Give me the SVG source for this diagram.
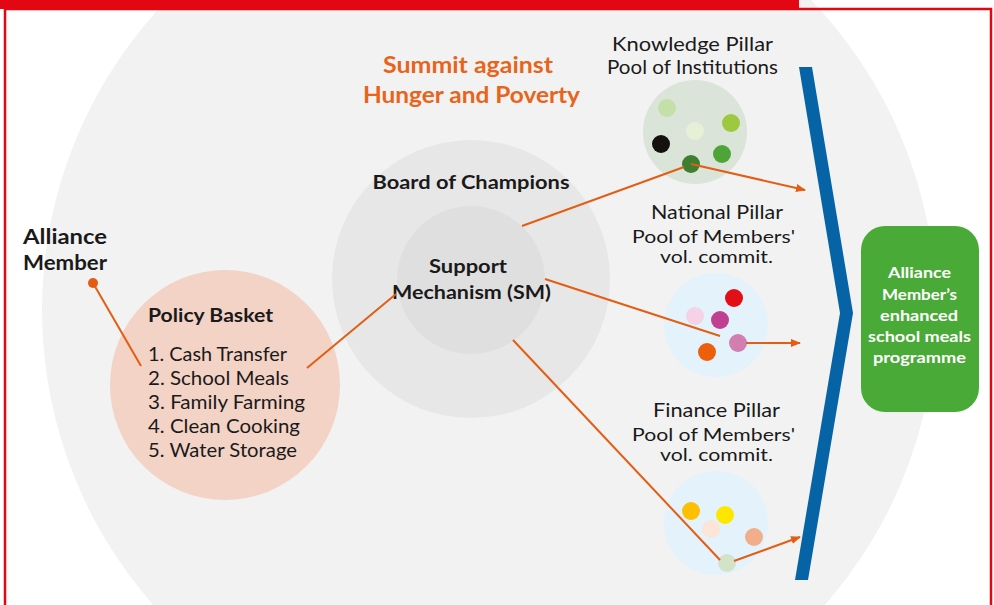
<svg xmlns="http://www.w3.org/2000/svg" width="994" height="605" viewBox="0 0 994 605">
<style>
.t{font-family:Lato,"Open Sans","Liberation Sans",sans-serif;fill:#1a1a1a}
.b{font-weight:700}
.c{text-anchor:middle}
.w{fill:#ffffff}
.o{fill:#e8641b}
.con{stroke:#e35d12;stroke-width:2;fill:none}
.dot{stroke:none}
</style>
<defs>
<marker id="ah" markerWidth="10" markerHeight="8" refX="9" refY="4" orient="auto" markerUnits="userSpaceOnUse">
<path d="M0,0 L10,4 L0,8 z" fill="#e35d12"/>
</marker>
</defs>
<rect x="0" y="0" width="994" height="605" fill="#ffffff"/>
<g id="background">
<circle cx="489" cy="310" r="447" fill="#f2f2f2"/>
</g>
<g id="frame">
<rect x="5" y="9" width="986" height="610" fill="none" stroke="#e30613" stroke-width="2.5"/>
<rect x="0" y="0" width="799" height="9" fill="#e30613"/>
</g>
<g id="title">
<text class="t b c o" x="468" y="73" font-size="22" textLength="170" lengthAdjust="spacingAndGlyphs">Summit against</text>
<text class="t b c o" x="471.5" y="103" font-size="22" textLength="217" lengthAdjust="spacingAndGlyphs">Hunger and Poverty</text>
</g>
<g id="board">
<circle cx="471" cy="279" r="139" fill="#e8e7e7"/>
<text class="t b c" x="471" y="189" font-size="19" textLength="197" lengthAdjust="spacingAndGlyphs">Board of Champions</text>
</g>
<g id="support-mechanism">
<circle cx="471" cy="280" r="74" fill="#e0dfdf"/>
<text class="t b c" x="468" y="273" font-size="19" textLength="78" lengthAdjust="spacingAndGlyphs">Support</text>
<text class="t b c" x="471.5" y="299" font-size="19" textLength="159" lengthAdjust="spacingAndGlyphs">Mechanism (SM)</text>
</g>
<g id="alliance-member">
<text class="t b" x="23" y="244" font-size="20" textLength="84" lengthAdjust="spacingAndGlyphs">Alliance</text>
<text class="t b" x="23" y="270" font-size="20" textLength="84" lengthAdjust="spacingAndGlyphs">Member</text>
<circle cx="93" cy="283" r="5" fill="#e35d12"/>
</g>
<g id="policy-basket">
<circle cx="225" cy="385" r="115" fill="#f2d3c6"/>
<text class="t b" x="148" y="322" font-size="19" textLength="125" lengthAdjust="spacingAndGlyphs">Policy Basket</text>
<text class="t" x="148" y="361" font-size="19" textLength="139" lengthAdjust="spacingAndGlyphs">1. Cash Transfer</text>
<text class="t" x="148" y="385" font-size="19" textLength="141" lengthAdjust="spacingAndGlyphs">2. School Meals</text>
<text class="t" x="148" y="409" font-size="19" textLength="157" lengthAdjust="spacingAndGlyphs">3. Family Farming</text>
<text class="t" x="148" y="433" font-size="19" textLength="152" lengthAdjust="spacingAndGlyphs">4. Clean Cooking</text>
<text class="t" x="148" y="457" font-size="19" textLength="149" lengthAdjust="spacingAndGlyphs">5. Water Storage</text>
</g>
<g id="knowledge-pillar">
<text class="t c" x="692.5" y="51" font-size="19" textLength="161" lengthAdjust="spacingAndGlyphs">Knowledge Pillar</text>
<text class="t c" x="692.5" y="74" font-size="19" textLength="171" lengthAdjust="spacingAndGlyphs">Pool of Institutions</text>
<circle cx="695" cy="132" r="52" fill="#dae4d8"/>
<circle class="dot" cx="667" cy="108" r="9" fill="#c4dfa8"/>
<circle class="dot" cx="695" cy="131" r="9" fill="#e6f0d6"/>
<circle class="dot" cx="731" cy="123" r="9" fill="#9ec840"/>
<circle class="dot" cx="661" cy="144" r="9" fill="#14110f"/>
<circle class="dot" cx="722" cy="154" r="9" fill="#4ea437"/>
<circle class="dot" cx="691" cy="164" r="9" fill="#3d7e30"/>
</g>
<g id="national-pillar">
<text class="t c" x="717" y="219" font-size="19" textLength="132" lengthAdjust="spacingAndGlyphs">National Pillar</text>
<text class="t c" x="713.5" y="243" font-size="17.5" textLength="163" lengthAdjust="spacingAndGlyphs">Pool of Members'</text>
<text class="t c" x="716.5" y="262.5" font-size="17" textLength="113" lengthAdjust="spacingAndGlyphs">vol. commit.</text>
<circle cx="716" cy="325" r="52" fill="#e3f2fb"/>
<circle class="dot" cx="734" cy="298" r="9" fill="#e30f17"/>
<circle class="dot" cx="695" cy="316" r="9" fill="#f5d2e6"/>
<circle class="dot" cx="720" cy="320" r="9" fill="#c13f90"/>
<circle class="dot" cx="738" cy="343" r="9" fill="#d27eb1"/>
<circle class="dot" cx="707" cy="352" r="9" fill="#ec5f0b"/>
</g>
<g id="finance-pillar">
<text class="t c" x="716.5" y="417" font-size="19" textLength="127" lengthAdjust="spacingAndGlyphs">Finance Pillar</text>
<text class="t c" x="713.5" y="441" font-size="17.5" textLength="163" lengthAdjust="spacingAndGlyphs">Pool of Members'</text>
<text class="t c" x="716.5" y="460.5" font-size="17" textLength="113" lengthAdjust="spacingAndGlyphs">vol. commit.</text>
<circle cx="716" cy="523" r="52" fill="#e3f2fb"/>
<circle class="dot" cx="691" cy="511" r="9" fill="#fdbf00"/>
<circle class="dot" cx="725" cy="515" r="9" fill="#fde700"/>
<circle class="dot" cx="711" cy="529" r="9" fill="#fce4d8"/>
<circle class="dot" cx="754" cy="537" r="9" fill="#f2ae8b"/>
<circle class="dot" cx="727" cy="563" r="9" fill="#d2e3c9"/>
</g>
<g id="chevron">
<polygon points="799,67 812,67 853,313 808,580 795,580 840,313" fill="#0563a6"/>
</g>
<g id="outcome">
<rect x="861" y="226" width="118" height="186" rx="24" ry="24" fill="#4aaa38"/>
<text class="t b c w" x="919.5" y="278" font-size="15" textLength="63" lengthAdjust="spacingAndGlyphs">Alliance</text>
<text class="t b c w" x="919.5" y="300" font-size="15" textLength="75" lengthAdjust="spacingAndGlyphs">Member’s</text>
<text class="t b c w" x="919" y="321" font-size="15" textLength="78" lengthAdjust="spacingAndGlyphs">enhanced</text>
<text class="t b c w" x="919.5" y="342" font-size="15" textLength="103" lengthAdjust="spacingAndGlyphs">school meals</text>
<text class="t b c w" x="919.5" y="363" font-size="15" textLength="93" lengthAdjust="spacingAndGlyphs">programme</text>
</g>
<g id="connectors">
<line class="con" x1="93" y1="283" x2="141" y2="366"/>
<line class="con" x1="307" y1="368" x2="396" y2="294"/>
<line class="con" x1="522" y1="226" x2="684" y2="167"/>
<line class="con" x1="545" y1="279" x2="720" y2="336"/>
<line class="con" x1="513" y1="340" x2="720" y2="560"/>
<line class="con" x1="691" y1="164" x2="805" y2="190" marker-end="url(#ah)"/>
<line class="con" x1="746" y1="343" x2="800" y2="343" marker-end="url(#ah)"/>
<line class="con" x1="734" y1="561" x2="800" y2="537" marker-end="url(#ah)"/>
</g>
</svg>
